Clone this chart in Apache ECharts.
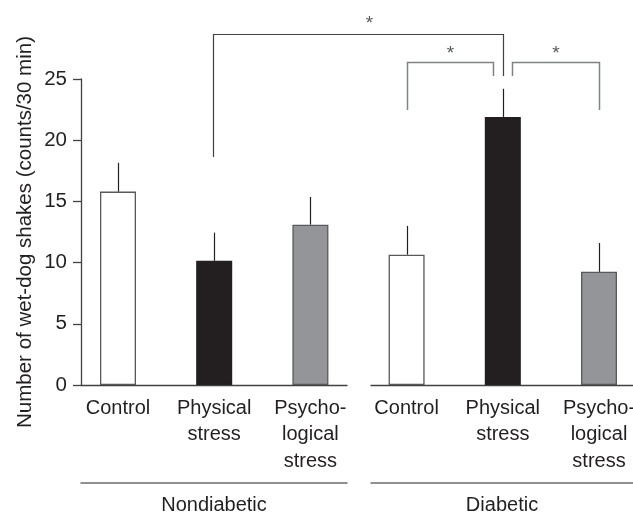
<!DOCTYPE html>
<html>
<head>
<meta charset="utf-8">
<script src="https://cdn.jsdelivr.net/npm/echarts@6/dist/echarts.min.js"></script>
<style>
html,body{margin:0;padding:0;background:#fff;}
#chart{width:633px;height:513px;}
</style>
</head>
<body>
<div id="chart"></div>
<script>
// ---- data ----
var categories = ['Control', 'Physical\nstress', 'Psycho-\nlogical\nstress', 'Control', 'Physical\nstress', 'Psycho-\nlogical\nstress'];
var groups = ['Nondiabetic', 'Diabetic'];
var means = [15.8, 10.15, 13.1, 10.65, 21.9, 9.25];
var sems = [2.35, 2.3, 2.26, 2.35, 2.3, 2.35];
var yTicks = [0, 5, 10, 15, 20, 25];
var yTitle = 'Number of wet-dog shakes (counts/30 min)';
// significance brackets (category index from / to, heights in y units)
var bracketFrom = [1, 3, 4];
var bracketTo = [4, 4, 5];
var bracketTop = [28.64, 26.36, 26.36];
var bracketLeftEnd = [18.63, 22.47, 25.24];
var bracketRightEnd = [25.24, 25.24, 22.47];
var bracketLabel = ['*', '*', '*'];

// ---- styles ----
var TXT = '#231f20';
var FONT = '"Liberation Sans", Arial, Helvetica, sans-serif';
var barFills = ['#ffffff', '#231f20', '#939598', '#ffffff', '#231f20', '#939598'];
var barBorders = ['#58595b', '#231f20', '#58595b', '#58595b', '#231f20', '#58595b'];
var legShift = [[-1, 0], [0, -10], [9, 0]];
var starShift = [11, 0, 0];
var starRaise = [11, 9, 9];
var bracketColor = ['#414042', '#808285', '#808285'];
var bracketWidth = [1.2, 1.5, 1.5];

var barData = means.map(function (v, i) {
  return { value: v, itemStyle: { color: barFills[i], borderColor: barBorders[i], borderWidth: 1.3 } };
});
var errData = means.map(function (v, i) { return [i, v, sems[i]]; });
var bracketData = bracketFrom.map(function (f, i) {
  return [f, bracketTo[i], bracketTop[i], bracketLeftEnd[i], bracketRightEnd[i], i];
});

var chart = echarts.init(document.getElementById('chart'), null, { renderer: 'canvas' });
var yMin = yTicks[0], yMax = yTicks[yTicks.length - 1], yStep = yTicks[1] - yTicks[0];

var option = {
  animation: false,
  backgroundColor: '#fff',
  textStyle: { fontFamily: FONT },
  grid: [
    { left: 118, top: 79, width: 481, height: 306, outerBoundsMode: 'none', containLabel: false },
    { left: 81, top: 79, width: 266, height: 306, outerBoundsMode: 'none', containLabel: false },
    { left: 371, top: 79, width: 262, height: 306, outerBoundsMode: 'none', containLabel: false }
  ],
  xAxis: [
    {
      type: 'category', gridIndex: 0, data: categories, boundaryGap: false,
      axisLine: { show: false }, axisTick: { show: false },
      axisLabel: { interval: 0, margin: 10, fontSize: 20, lineHeight: 26.5, color: TXT, fontFamily: FONT }
    },
    {
      type: 'category', gridIndex: 1, data: [''],
      axisLine: { show: true, lineStyle: { color: '#414042', width: 1.3 } },
      axisTick: { show: false }, axisLabel: { show: false }
    },
    {
      type: 'category', gridIndex: 1, data: [groups[0]], position: 'bottom', offset: 98,
      axisLine: { show: true, lineStyle: { color: '#6d6e71', width: 1.5 } },
      axisTick: { show: false },
      axisLabel: { margin: 12, fontSize: 20, color: TXT, fontFamily: FONT }
    },
    {
      type: 'category', gridIndex: 2, data: [''],
      axisLine: { show: true, lineStyle: { color: '#414042', width: 1.3 } },
      axisTick: { show: false }, axisLabel: { show: false }
    },
    {
      type: 'category', gridIndex: 2, data: [groups[1]], position: 'bottom', offset: 98,
      axisLine: { show: true, lineStyle: { color: '#6d6e71', width: 1.5 } },
      axisTick: { show: false },
      axisLabel: { margin: 12, fontSize: 20, color: TXT, fontFamily: FONT }
    }
  ],
  yAxis: [
    { type: 'value', gridIndex: 0, min: yMin, max: yMax, show: false },
    {
      type: 'value', gridIndex: 1, min: yMin, max: yMax, interval: yStep,
      name: yTitle, nameLocation: 'middle', nameGap: 45,
      nameTextStyle: { fontSize: 20.5, color: TXT, fontFamily: FONT },
      axisLine: { show: true, lineStyle: { color: '#414042', width: 1.3 } },
      axisTick: { show: true, inside: false, length: 8, lineStyle: { color: '#414042', width: 1.3 } },
      axisLabel: { margin: 14, fontSize: 20.5, color: TXT, fontFamily: FONT },
      splitLine: { show: false }
    },
    { type: 'value', gridIndex: 2, min: yMin, max: yMax, show: false }
  ],
  series: [
    {
      type: 'bar', xAxisIndex: 0, yAxisIndex: 0, data: barData, barWidth: 36, z: 2
    },
    {
      type: 'custom', xAxisIndex: 0, yAxisIndex: 0, data: errData, z: 3, clip: false,
      renderItem: function (params, api) {
        var x = api.value(0), v = api.value(1), e = api.value(2);
        var p0 = api.coord([x, v]);
        var p1 = api.coord([x, v + e]);
        return {
          type: 'line',
          shape: { x1: Math.round(p0[0]) + 0.5, y1: p0[1], x2: Math.round(p1[0]) + 0.5, y2: p1[1] },
          style: { stroke: '#231f20', lineWidth: 1.2 }
        };
      }
    },
    {
      type: 'custom', xAxisIndex: 0, yAxisIndex: 0, data: bracketData, z: 4, clip: false,
      renderItem: function (params, api) {
        var f = api.value(0), t = api.value(1), top = api.value(2);
        var le = api.value(3), re = api.value(4), k = api.value(5);
        var pl = api.coord([f, top]);
        var pr = api.coord([t, top]);
        var yl = api.coord([f, le])[1];
        var yr = api.coord([t, re])[1];
        var xl = Math.round(pl[0] + legShift[k][0]) + 0.5;
        var xr = Math.round(pr[0] + legShift[k][1]) + 0.5;
        var yt = Math.round(pl[1]) + 0.5;
        return {
          type: 'group',
          children: [
            {
              type: 'polyline',
              shape: { points: [[xl, yl], [xl, yt], [xr, yt], [xr, yr]] },
              style: { stroke: bracketColor[k], lineWidth: bracketWidth[k], fill: null }
            },
            {
              type: 'text',
              style: {
                text: bracketLabel[k], x: (xl + xr) / 2 + starShift[k], y: yt - starRaise[k],
                align: 'center', verticalAlign: 'middle',
                fontSize: 19, fontFamily: FONT, fill: '#58595b'
              }
            }
          ]
        };
      }
    }
  ]
};
chart.setOption(option);
</script>
</body>
</html>
